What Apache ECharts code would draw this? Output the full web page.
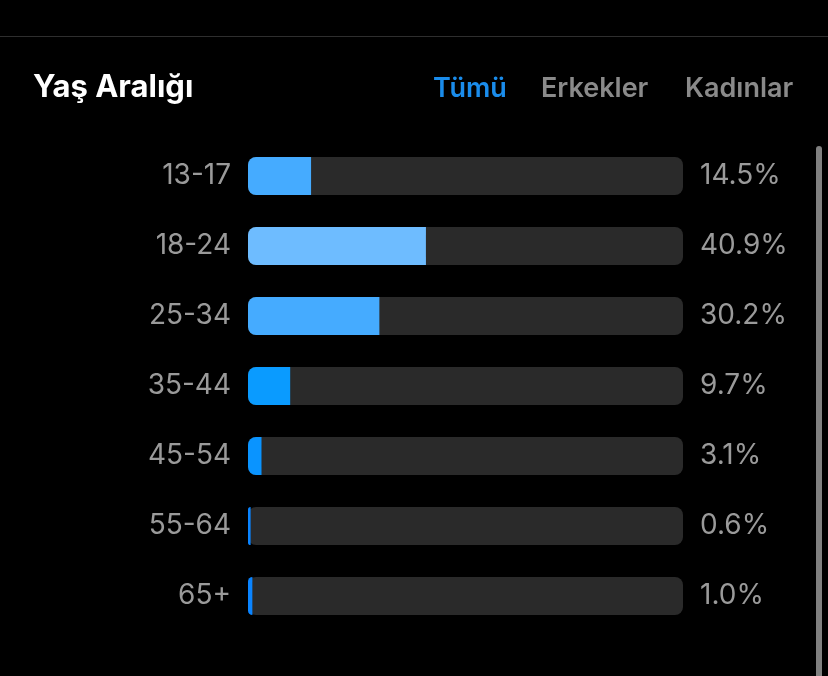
<!DOCTYPE html>
<html>
<head>
<meta charset="utf-8">
<script src="https://cdn.jsdelivr.net/npm/echarts@6/dist/echarts.min.js"></script>
<style>
html,body{margin:0;padding:0;background:#000;}
#main{width:828px;height:676px;}
</style>
</head>
<body>
<div id="main"></div>
<script>
const title = 'Yaş Aralığı';
const tabs = ['Tümü', 'Erkekler', 'Kadınlar'];
const categories = ['13-17', '18-24', '25-34', '35-44', '45-54', '55-64', '65+'];
const values = [14.5, 40.9, 30.2, 9.7, 3.1, 0.6, 1.0];
const barColors = ['#45abff', '#6ebcff', '#45abff', '#0a9bff', '#0a94ff', '#0a84ff', '#0a84ff'];

const chart = echarts.init(document.getElementById('main'));
const font = 'Inter, Roboto, "Noto Sans", sans-serif';
chart.setOption({
  backgroundColor: '#000',
  animation: false,
  grid: { left: 248, right: 145, top: 141, bottom: 45 },
  xAxis: { type: 'value', min: 0, max: 100, show: false },
  yAxis: [
    {
      type: 'category', data: categories, inverse: true,
      axisLine: { show: false }, axisTick: { show: false }, splitLine: { show: false },
      axisLabel: { color: '#9a9a9a', fontSize: 28, fontFamily: font, margin: 17 }
    },
    {
      type: 'category', data: values.map(v => v.toFixed(1) + '%'), inverse: true, position: 'right',
      axisLine: { show: false }, axisTick: { show: false }, splitLine: { show: false },
      axisLabel: { color: '#9a9a9a', fontSize: 28, fontFamily: font, margin: 17 }
    }
  ],
  series: [{
    type: 'bar',
    barWidth: 38,
    showBackground: true,
    backgroundStyle: { color: '#2a2a2a', borderRadius: 8 },
    data: values.map((v, i) => ({ value: v, itemStyle: { color: barColors[i], borderRadius: [8, 0, 0, 8] } }))
  }],
  graphic: [
    { type: 'rect', left: 0, top: 36, shape: { width: 828, height: 1 }, style: { fill: '#2e2e2e' } },
    { type: 'rect', left: 816, top: 146, shape: { width: 6, height: 540, r: 3 }, style: { fill: '#808080' } },
    { type: 'text', left: 33, top: 72, style: { text: title, fill: '#ffffff', font: 'bold 31px ' + font } },
    { type: 'text', left: 433, top: 75, style: { text: tabs[0], fill: '#1a8ceb', font: '600 27px ' + font } },
    { type: 'text', left: 541, top: 75, style: { text: tabs[1], fill: '#8a8a8a', font: '600 27px ' + font } },
    { type: 'text', left: 685, top: 75, style: { text: tabs[2], fill: '#8a8a8a', font: '600 27px ' + font } }
  ]
});
</script>
</body>
</html>
